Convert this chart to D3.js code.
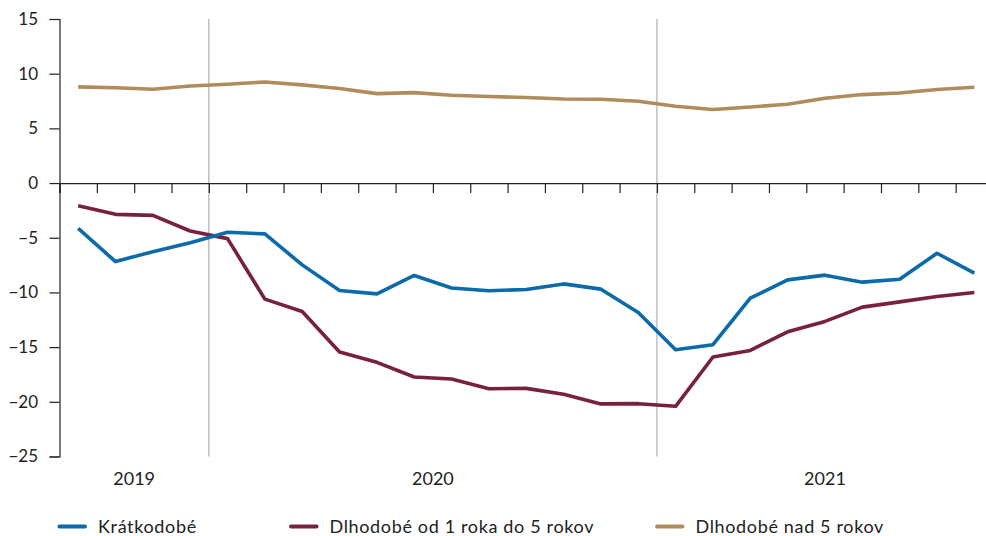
<!DOCTYPE html>
<html>
<head>
<meta charset="utf-8">
<script src="https://cdn.jsdelivr.net/npm/d3@7/dist/d3.min.js"></script>
<style>
body { margin: 0; background: #fff; }
svg { display: block; font-family: Lato, "Noto Sans", sans-serif; }
</style>
</head>
<body>
<div id="chart"></div>
<script>
// ---- data ----
const months = d3.range(25); // Sep 2019 .. Sep 2021
const years = ["2019", "2020", "2021"];
const yearSpans = [[0, 4], [4, 16], [16, 25]];
const yTicks = [15, 10, 5, 0, -5, -10, -15, -20, -25];
const seriesNames = ["Krátkodobé", "Dlhodobé od 1 roka do 5 rokov", "Dlhodobé nad 5 rokov"];
const kratkodobe = [-4.14, -7.18, -6.27, -5.45, -4.5, -4.65, -7.48, -9.82, -10.13, -8.45, -9.6, -9.85, -9.73, -9.22, -9.7, -11.83, -15.24, -14.78, -10.52, -8.85, -8.42, -9.06, -8.79, -6.42, -8.24];
const dlhodobe15 = [-2.07, -2.86, -2.95, -4.38, -5.08, -10.61, -11.74, -15.45, -16.39, -17.73, -17.91, -18.8, -18.77, -19.31, -20.19, -20.17, -20.41, -15.9, -15.3, -13.6, -12.65, -11.34, -10.86, -10.37, -10.0];
const dlhodobe5 = [8.79, 8.72, 8.58, 8.88, 9.03, 9.24, 8.98, 8.64, 8.18, 8.27, 8.03, 7.91, 7.82, 7.69, 7.66, 7.48, 7.03, 6.72, 6.96, 7.21, 7.76, 8.09, 8.24, 8.55, 8.76];
const colors = ["#0a6aaa", "#77203f", "#b08c5c"];
const allSeries = [kratkodobe, dlhodobe15, dlhodobe5];

// ---- layout ----
const W = 986, H = 536;
const mLeft = 59.5, mRight = 993, mTop = 19, mBottom = 456.5;

const svg = d3.select("#chart").append("svg").attr("width", W).attr("height", H);

const x = d3.scaleLinear().domain([0, 25]).range([mLeft, mRight]);
const y = d3.scaleLinear().domain([-25, 15]).range([mBottom, mTop]);

// separators
[4, 16].forEach(i => {
  svg.append("line")
    .attr("x1", x(i)).attr("x2", x(i))
    .attr("y1", mTop).attr("y2", mBottom)
    .attr("stroke", "#a0a0a0").attr("stroke-width", 1);
});

// y axis
const yAxis = svg.append("g").attr("transform", `translate(${mLeft},0)`)
  .call(d3.axisLeft(y).tickValues(yTicks).tickSize(10).tickPadding(11.5).tickFormat(d3.format("d")));
yAxis.select(".domain").attr("stroke", "#222").attr("stroke-width", 1.2);
yAxis.selectAll(".tick line").attr("stroke", "#222").attr("stroke-width", 1.2);
yAxis.selectAll("text").attr("font-size", 17).attr("fill", "#222").attr("font-family", "Lato, sans-serif");

// x axis at zero
const xAxis = svg.append("g").attr("transform", `translate(0,${y(0)})`)
  .call(d3.axisBottom(x).tickValues(d3.range(0, 25)).tickSize(10).tickFormat(""));
xAxis.select(".domain").attr("stroke", "#222").attr("stroke-width", 1.2);
xAxis.selectAll(".tick line").attr("stroke", "#222").attr("stroke-width", 1.2);

// year labels
years.forEach((yr, i) => {
  const [a, b] = yearSpans[i];
  svg.append("text")
    .attr("x", x((a + b) / 2)).attr("y", 484.5)
    .attr("text-anchor", "middle")
    .attr("font-size", 18).attr("fill", "#222")
    .text(yr);
});

// lines
const line = d3.line().x((d, i) => x(i + 0.5)).y(d => y(d));
[2, 1, 0].forEach(k => {
  svg.append("path")
    .datum(allSeries[k])
    .attr("d", line)
    .attr("fill", "none")
    .attr("stroke", colors[k])
    .attr("stroke-width", 3.6)
    .attr("stroke-linejoin", "round");
});

// legend
const legX = [59.5, 291, 657];
seriesNames.forEach((name, k) => {
  const g = svg.append("g").attr("transform", `translate(${legX[k]},526.5)`);
  g.append("line").attr("x1", 0).attr("x2", 25.5).attr("y1", 0).attr("y2", 0)
    .attr("stroke", colors[k]).attr("stroke-width", 4).attr("stroke-linecap", "round");
  g.append("text").attr("x", 38.5).attr("y", 6)
    .attr("font-size", 18).attr("letter-spacing", 0.65).attr("fill", "#222").text(name);
});
</script>
</body>
</html>
